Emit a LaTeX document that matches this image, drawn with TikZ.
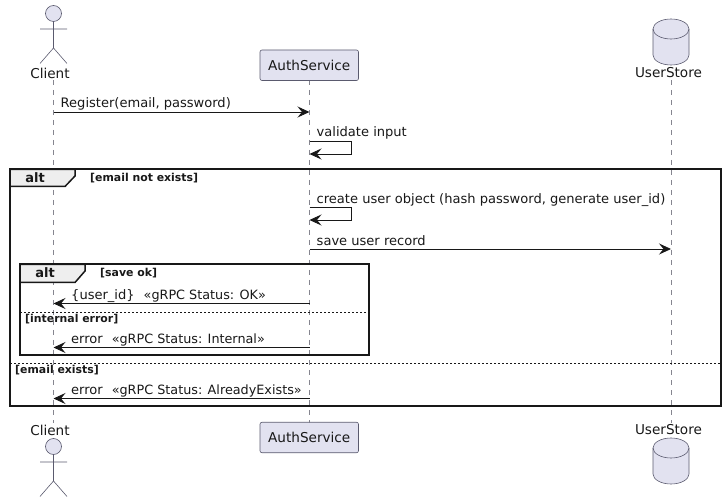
\documentclass[tikz,border=0pt]{standalone}
\usepackage{fontspec}
\setmainfont{DejaVu Sans}
\usetikzlibrary{arrows.meta}
\definecolor{partfill}{HTML}{E2E2F0}
\definecolor{partline}{HTML}{5A5A6E}
\definecolor{lifec}{HTML}{85858F}
\definecolor{ink}{HTML}{181818}
\definecolor{tabfill}{HTML}{EEEEEE}
\newcommand{\statusfont}{\fontsize{12.78}{15}\selectfont}
\tikzset{
  partname/.style={font=\fontsize{13.6}{15}\selectfont,text=ink,inner sep=0pt},
  partbox/.style={draw=partline,fill=partfill,rounded corners=2pt,line width=0.6pt,minimum width=98.5pt,minimum height=30.5pt,inner sep=0pt,font=\fontsize{13.6}{15}\selectfont,text=ink},
  shapeline/.style={draw=partline,line width=0.6pt},
  lifeline/.style={draw=lifec,line width=0.5pt,dash pattern=on 5pt off 5pt},
  msg/.style={draw=ink,line width=0.85pt,-{Stealth[length=12pt,width=11pt,inset=4.5pt]}},
  msgtext/.style={font=\fontsize{13.05}{15}\selectfont,text=ink,inner sep=0pt,anchor=base west},
  frameline/.style={draw=ink,line width=2pt},
  tabshape/.style={draw=ink,line width=1.5pt,fill=tabfill},
  altlabel/.style={font=\fontsize{13}{15}\selectfont\bfseries,text=ink,inner sep=0pt,anchor=base},
  guard/.style={font=\fontsize{10.9}{12}\selectfont\bfseries,text=ink,inner sep=0pt,anchor=base west},
  divider/.style={draw=ink,line width=0.7pt,dash pattern=on 2pt off 2pt},
}
\newcommand{\stick}[2]{%
  \path[shapeline,fill=partfill] (#1,#2) circle (8pt);
  \path[shapeline] (#1,#2+8) -- (#1,#2+34.5) (#1-13.5,#2+15.5) -- (#1+13.5,#2+15.5)
    (#1-13.5,#2+50) -- (#1,#2+34.5) -- (#1+13.5,#2+50);
}
\newcommand{\cyl}[2]{%
  \path[shapeline,fill=partfill] (#1-18,#2+10) arc[start angle=180,end angle=0,x radius=18pt,y radius=10pt]
    -- (#1+18,#2+36) arc[start angle=0,end angle=-180,x radius=18pt,y radius=10pt] -- cycle;
  \path[shapeline] (#1-18,#2+10) arc[start angle=180,end angle=360,x radius=18pt,y radius=10pt];
}
\begin{document}
\begin{tikzpicture}[x=1pt,y=-1pt]
\useasboundingbox (0,0) rectangle (725,502);
% lifelines
\coordinate (ct) at (53.5,80); \coordinate (cb) at (53.5,423);
\coordinate (at) at (309.5,80); \coordinate (ab) at (309.5,423);
\coordinate (ut) at (671,80); \coordinate (ub) at (671,423);
\draw[lifeline] (ct) -- (cb);
\draw[lifeline] (at) -- (ab);
\draw[lifeline] (ut) -- (ub);
% participants
\stick{53.5}{13.5}
\stick{53.5}{446.5}
\node[partname] (client1) at (50,73) {Client};
\node[partname] (client2) at (50,430) {Client};
\node[partbox] (auth1) at (309.25,65.25) {AuthService};
\node[partbox] (auth2) at (309.25,437.5) {AuthService};
\cyl{671}{19}
\cyl{671}{438}
\node[partname] (store1) at (668.5,73) {UserStore};
\node[partname] (store2) at (668.5,430) {UserStore};
% anchors of messages
\coordinate (c1) at (53.5,112); \coordinate (a1) at (309.5,112);
\coordinate (a2a) at (309.5,141); \coordinate (a2b) at (351.5,141); \coordinate (a2c) at (351.5,154); \coordinate (a2d) at (309.5,154);
\coordinate (a3a) at (309.5,207); \coordinate (a3b) at (351.5,207); \coordinate (a3c) at (351.5,220); \coordinate (a3d) at (309.5,220);
\coordinate (a4) at (309.5,249); \coordinate (u4) at (671,249);
\coordinate (a5) at (309.5,303.5); \coordinate (c5) at (53.5,303.5);
\coordinate (a6) at (309.5,347.5); \coordinate (c6) at (53.5,347.5);
\coordinate (a7) at (309.5,398.5); \coordinate (c7) at (53.5,398.5);
% outer alt
\draw[frameline] (10,169.5) rectangle (721,406);
\draw[tabshape] (10,169.5) -- (75,169.5) -- (75,176) -- (65,186.5) -- (10,186.5) -- cycle;
\node[altlabel] (alt1) at (35,182.5) {alt};
\node[guard] (g1) at (90,182) {[email not exists]};
\draw[divider] (10,363.5) -- (721,363.5);
\node[guard] (g3) at (15,373.5) {[email exists]};
% inner alt
\draw[frameline] (20,264.5) rectangle (368.5,355);
\draw[tabshape] (20,264.5) -- (85,264.5) -- (85,271) -- (75,282.5) -- (20,282.5) -- cycle;
\node[altlabel] (alt2) at (45,278) {alt};
\node[guard] (g2) at (100,277) {[save ok]};
\draw[divider] (20,312.5) -- (368.5,312.5);
\node[guard] (g4) at (25,322.5) {[internal error]};
% messages
\draw[msg] (c1) -- (a1);
\node[msgtext] (m1) at (60.5,108) {Register(email, password)};
\draw[msg] (a2a) -- (a2b) -- (a2c) -- (a2d);
\node[msgtext] (m2) at (316.5,137) {validate input};
\draw[msg] (a3a) -- (a3b) -- (a3c) -- (a3d);
\node[msgtext] (m3) at (316.5,203.5) {create user object (hash password, generate user\_id)};
\draw[msg] (a4) -- (u4);
\node[msgtext] (m4) at (316.5,245.5) {save user record};
\draw[msg] (a5) -- (c5);
\node[msgtext] (m5) at (71,299.5) {\{user\_id\}\hspace{9pt}{\statusfont «gRPC Status: OK»}};
\draw[msg] (a6) -- (c6);
\node[msgtext] (m6) at (71,343.5) {error\hspace{9pt}{\statusfont «gRPC Status: Internal»}};
\draw[msg] (a7) -- (c7);
\node[msgtext] (m7) at (71,394.5) {error\hspace{9pt}{\statusfont «gRPC Status: AlreadyExists»}};
\end{tikzpicture}
\end{document}
